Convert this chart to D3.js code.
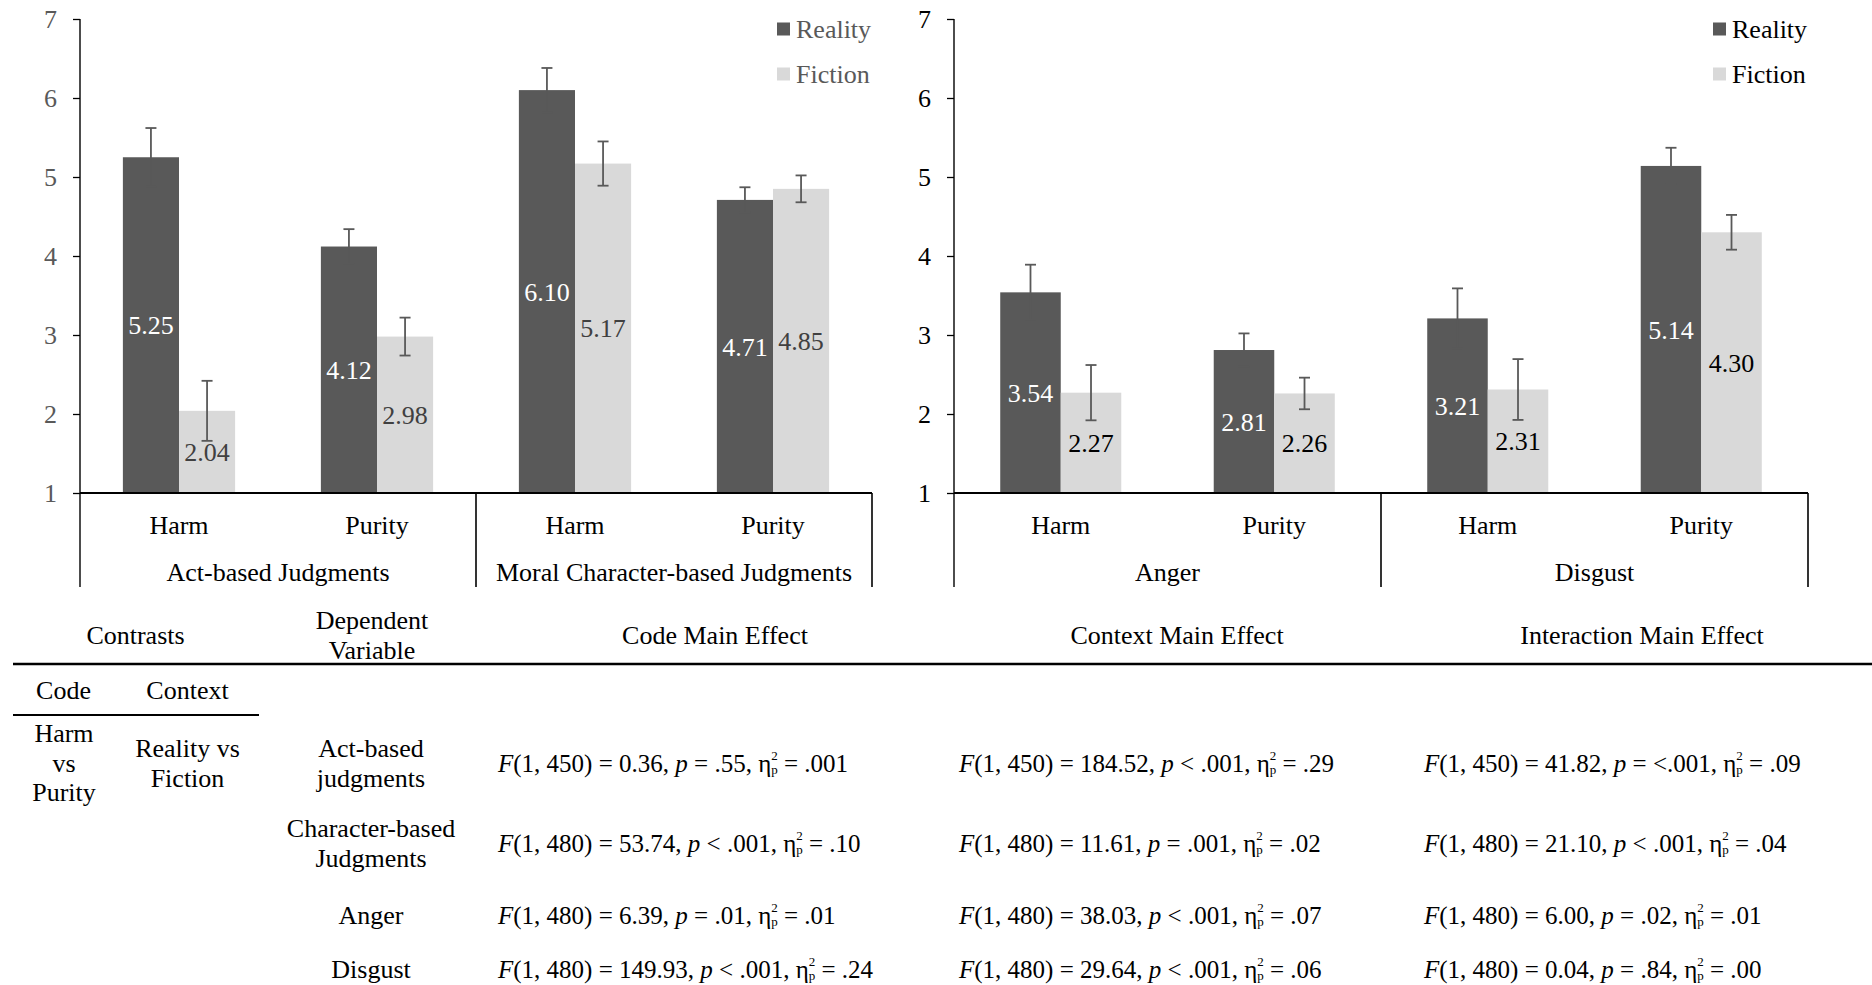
<!DOCTYPE html>
<html>
<head>
<meta charset="utf-8">
<script src="https://cdn.jsdelivr.net/npm/d3@7"></script>
<style>
  body { margin: 0; background: #fff; }
  svg { display: block; }
</style>
</head>
<body>
<script>
// chart data
const series = ["Reality", "Fiction"];
const codes = ["Harm", "Purity"];
const yTicks = [1, 2, 3, 4, 5, 6, 7];

const leftGroups = ["Act-based Judgments", "Moral Character-based Judgments"];
const leftReality = [5.25, 4.12, 6.10, 4.71];
const leftFiction = [2.04, 2.98, 5.17, 4.85];
const leftRealityErr = [0.37, 0.22, 0.28, 0.16];
const leftFictionErr = [0.38, 0.24, 0.28, 0.17];

const rightGroups = ["Anger", "Disgust"];
const rightReality = [3.54, 2.81, 3.21, 5.14];
const rightFiction = [2.27, 2.26, 2.31, 4.30];
const rightRealityErr = [0.35, 0.21, 0.38, 0.23];
const rightFictionErr = [0.35, 0.20, 0.385, 0.22];

// table data
const tableHeaders = ["Code Main Effect", "Context Main Effect", "Interaction Main Effect"];
const dvLabels = [["Act-based", "judgments"], ["Character-based", "Judgments"], ["Anger"], ["Disgust"]];
const dfs = ["1, 450", "1, 480", "1, 480", "1, 480"];
const codeF = ["0.36", "53.74", "6.39", "149.93"];
const codeP = ["= .55", "< .001", "= .01", "< .001"];
const codeEta = [".001", ".10", ".01", ".24"];
const contextF = ["184.52", "11.61", "38.03", "29.64"];
const contextP = ["< .001", "= .001", "< .001", "< .001"];
const contextEta = [".29", ".02", ".07", ".06"];
const interF = ["41.82", "21.10", "6.00", "0.04"];
const interP = ["= <.001", "< .001", "= .02", "= .84"];
const interEta = [".09", ".04", ".01", ".00"];

const W = 1872, H = 985;
const DARK = "#595959", LIGHT = "#d9d9d9";
const FS = 26;

const svg = d3.select("body").append("svg")
  .attr("width", W).attr("height", H)
  .style("font-family", "'Liberation Serif','Times New Roman',serif")
  .style("font-size", FS + "px");

const y = d3.scaleLinear().domain([1, 7]).range([493, 19]);
const axisBottomEnd = 587;

function drawPanel(o) {
  const g = svg.append("g");
  const cats = o.groups.flatMap(gr => codes.map(c => gr + "|" + c));
  const x0 = d3.scaleBand().domain(cats).range([o.left, o.right]).padding(0);
  const x1 = d3.scaleBand().domain(series).range([0, x0.bandwidth()])
    .paddingInner(0).paddingOuter(0.764);

  // y axis
  const ax = g.append("g").attr("transform", `translate(${o.left},0)`)
    .call(d3.axisLeft(y).tickValues(yTicks).tickFormat(d3.format("d"))
      .tickSize(7).tickSizeOuter(0).tickPadding(16))
    .attr("font-family", null).attr("font-size", null);
  ax.select(".domain").remove();
  ax.selectAll(".tick line").attr("stroke", "#000").attr("stroke-width", 1.3);
  ax.selectAll(".tick text").attr("fill", o.tickColor);
  g.append("line").attr("x1", o.left).attr("x2", o.left)
    .attr("y1", y(7)).attr("y2", axisBottomEnd)
    .attr("stroke", "#000").attr("stroke-width", 1.4);

  const rows = cats.map((c, i) => ({
    cat: c, code: codes[i % 2],
    vals: [
      { s: "Reality", v: o.reality[i], e: o.rErr[i] },
      { s: "Fiction", v: o.fiction[i], e: o.fErr[i] }
    ]
  }));

  const cg = g.selectAll(".cat").data(rows).join("g")
    .attr("transform", d => `translate(${x0(d.cat)},0)`);

  cg.selectAll("rect").data(d => d.vals).join("rect")
    .attr("x", d => x1(d.s)).attr("width", x1.bandwidth())
    .attr("y", d => y(d.v)).attr("height", d => y(1) - y(d.v))
    .attr("fill", d => d.s === "Reality" ? DARK : LIGHT);

  const eb = cg.selectAll(".err").data(d => d.vals).join("g").attr("class", "err")
    .attr("stroke", DARK).attr("stroke-width", 1.8);
  const cx = d => x1(d.s) + x1.bandwidth() / 2;
  eb.append("line").attr("x1", cx).attr("x2", cx)
    .attr("y1", d => y(d.v + d.e)).attr("y2", d => y(d.v - d.e));
  eb.append("line").attr("x1", d => cx(d) - 5.5).attr("x2", d => cx(d) + 5.5)
    .attr("y1", d => y(d.v + d.e)).attr("y2", d => y(d.v + d.e));
  eb.append("line").attr("x1", d => cx(d) - 5.5).attr("x2", d => cx(d) + 5.5)
    .attr("y1", d => y(d.v - d.e)).attr("y2", d => y(d.v - d.e));

  cg.selectAll(".lbl").data(d => d.vals).join("text").attr("class", "lbl")
    .attr("x", cx).attr("y", d => (y(d.v) + y(1)) / 2).attr("dy", "0.35em")
    .attr("text-anchor", "middle")
    .attr("fill", d => d.s === "Reality" ? "#fff" : o.fictionLabel)
    .text(d => d.v.toFixed(2));

  // category axis
  g.append("line").attr("x1", o.left).attr("x2", o.right)
    .attr("y1", y(1)).attr("y2", y(1)).attr("stroke", "#000").attr("stroke-width", 2);
  const bounds = [x0(cats[2]), o.right];
  bounds.forEach(bx => g.append("line").attr("x1", bx).attr("x2", bx)
    .attr("y1", y(1)).attr("y2", axisBottomEnd).attr("stroke", "#000").attr("stroke-width", 1.6));
  g.selectAll(".code").data(rows).join("text").attr("class", "code")
    .attr("x", d => x0(d.cat) + x0.bandwidth() / 2).attr("y", 525).attr("dy", "0.35em")
    .attr("text-anchor", "middle").attr("fill", "#000").text(d => d.code);
  g.selectAll(".grp").data(o.groups).join("text").attr("class", "grp")
    .attr("x", (d, i) => x0(cats[i * 2]) + x0.bandwidth()).attr("y", 572).attr("dy", "0.35em")
    .attr("text-anchor", "middle").attr("fill", "#000").text(d => d);

  // legend
  const lg = g.selectAll(".leg").data(series).join("g").attr("class", "leg")
    .attr("transform", (d, i) => `translate(${o.right - 95},${29 + i * 45})`);
  lg.append("rect").attr("x", 0).attr("y", -6.5).attr("width", 13).attr("height", 13)
    .attr("fill", d => d === "Reality" ? DARK : LIGHT);
  lg.append("text").attr("x", 19).attr("dy", "0.35em").attr("fill", o.legendColor).text(d => d);
}

drawPanel({
  left: 80, right: 872, groups: leftGroups,
  reality: leftReality, fiction: leftFiction, rErr: leftRealityErr, fErr: leftFictionErr,
  tickColor: "#595959", fictionLabel: "#404040", legendColor: "#595959"
});
drawPanel({
  left: 954, right: 1808, groups: rightGroups,
  reality: rightReality, fiction: rightFiction, rErr: rightRealityErr, fErr: rightFictionErr,
  tickColor: "#000", fictionLabel: "#000", legendColor: "#000"
});

// ---- statistics table ----
const tg = svg.append("g").attr("fill", "#000");
function ctext(x, yc, s) {
  tg.append("text").attr("x", x).attr("y", yc).attr("dy", "0.35em")
    .attr("text-anchor", "middle").text(s);
}
ctext(135.5, 635, "Contrasts");
ctext(372, 620, "Dependent");
ctext(372, 650, "Variable");
const headerX = [715, 1177, 1642];
tableHeaders.forEach((h, i) => ctext(headerX[i], 635, h));
tg.append("line").attr("x1", 13).attr("x2", W).attr("y1", 664).attr("y2", 664)
  .attr("stroke", "#000").attr("stroke-width", 2.5);
ctext(63.5, 690, "Code");
ctext(187.5, 690, "Context");
tg.append("line").attr("x1", 13).attr("x2", 259).attr("y1", 715).attr("y2", 715)
  .attr("stroke", "#000").attr("stroke-width", 2);
["Harm", "vs", "Purity"].forEach((s, i) => ctext(64, 733 + i * 29.5, s));
["Reality vs", "Fiction"].forEach((s, i) => ctext(187.5, 748 + i * 30, s));

const rowY = [763, 843, 915, 969];
dvLabels.forEach((lines, r) => {
  const n = lines.length;
  lines.forEach((s, k) => ctext(371, rowY[r] + (k - (n - 1) / 2) * 30, s));
});

function statText(x, yc, df, F, p, eta) {
  const t = tg.append("text").attr("x", x).attr("y", yc).attr("dy", "0.35em")
    .style("font-size", "25px");
  t.append("tspan").style("font-style", "italic").text("F");
  t.append("tspan").text(`(${df}) = ${F}, `);
  t.append("tspan").style("font-style", "italic").text("p");
  t.append("tspan").text(` ${p}, η`);
  t.append("tspan").attr("dy", -12).style("font-size", "13px").text("2");
  t.append("tspan").attr("dx", -6.5).attr("dy", 14.5).style("font-size", "13px").text("p");
  t.append("tspan").attr("dy", -2.5).text(` = ${eta}`);
}
const colX = [498, 959, 1424];
const cols = [[codeF, codeP, codeEta], [contextF, contextP, contextEta], [interF, interP, interEta]];
cols.forEach((c, ci) => {
  rowY.forEach((yy, r) => statText(colX[ci], yy, dfs[r], c[0][r], c[1][r], c[2][r]));
});
</script>
</body>
</html>
